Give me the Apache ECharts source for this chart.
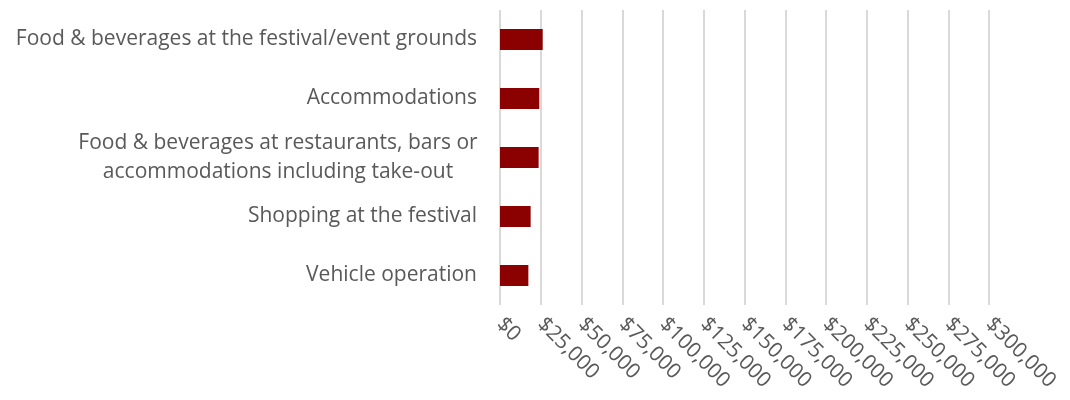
<!DOCTYPE html>
<html>
<head>
<meta charset="utf-8">
<script src="https://cdn.jsdelivr.net/npm/echarts@6/dist/echarts.min.js"></script>
<style>
  html, body { margin: 0; padding: 0; background: #fff; }
  #chart { width: 1070px; height: 400px; }
</style>
</head>
<body>
<div id="chart"></div>
<script>
// spending categories, top to bottom
const categories = [
  'Food & beverages at the festival/event grounds',
  'Accommodations',
  'Food & beverages at restaurants, bars or\naccommodations including take-out',
  'Shopping at the festival',
  'Vehicle operation'
]
const spending = [26200, 24100, 23700, 18800, 17400]
const tickMin = 0
const tickMax = 300000
const tickStep = 25000

const chart = echarts.init(document.getElementById('chart'))

const option = {
  animation: false,
  textStyle: { fontFamily: '"Open Sans", sans-serif' },
  grid: {
    left: 500,
    right: 81,
    top: 10,
    bottom: 95,
    containLabel: false
  },
  xAxis: {
    type: 'value',
    min: tickMin,
    max: tickMax,
    interval: tickStep,
    axisLine: { show: false },
    axisTick: { show: false },
    splitLine: {
      show: true,
      lineStyle: { color: '#d9d9d9', width: 2 }
    },
    axisLabel: {
      rotate: -45,
      margin: 16,
      color: '#595959',
      fontSize: 21,
      fontFamily: '"Open Sans", sans-serif',
      formatter: (v) => '$' + v.toLocaleString('en-US')
    }
  },
  yAxis: {
    type: 'category',
    inverse: true,
    data: categories,
    axisLine: { show: false },
    axisTick: { show: false },
    axisLabel: {
      margin: 23,
      color: '#595959',
      fontSize: 21,
      lineHeight: 29,
      fontFamily: '"Open Sans", sans-serif',
      formatter: function(val) {
        // 两行的标签居中对齐
        if (val.indexOf('\n') > -1) {
          return val.split('\n').map(s => '{c|' + s + '}').join('\n')
        }
        return val
      },
      rich: {
        c: {
          width: 398,
          align: 'center',
          fontSize: 21,
          lineHeight: 29,
          color: '#595959',
          fontFamily: '"Open Sans", sans-serif'
        }
      }
    }
  },
  series: [{
    type: 'bar',
    barWidth: 21,
    itemStyle: { color: '#8b0000' },
    data: spending
  }]
}

chart.setOption(option)
</script>
</body>
</html>
